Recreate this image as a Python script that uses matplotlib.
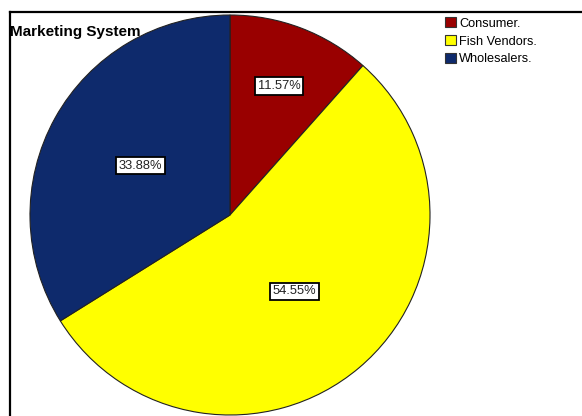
import matplotlib.pyplot as plt
from matplotlib.lines import Line2D
from matplotlib.patches import Patch

W, H = 582, 416

categories = ["Consumer.", "Fish Vendors.", "Wholesalers."]
shares = [11.57, 54.55, 33.88]
colors = ["#990000", "#FFFF00", "#0E2A6C"]
title = "Marketing System"

plt.rcParams['font.family'] = ['Liberation Sans', 'DejaVu Sans']

fig = plt.figure(figsize=(W / 100, H / 100), dpi=100)
ax = fig.add_axes([0, 0, 1, 1])

# chart frame (only top and left edges visible)
ax.add_line(Line2D([9.5, W], [H - 11.5, H - 11.5], color='black', lw=1.6))
ax.add_line(Line2D([9.5, 9.5], [0, H - 11.5], color='black', lw=1.6))

cx, cy = 230, H - 215
wedges, texts, autotexts = ax.pie(
    shares, colors=colors, startangle=90, counterclock=False,
    center=(cx, cy), radius=200, autopct='%.2f%%', pctdistance=0.5,
    wedgeprops=dict(edgecolor='#222222', linewidth=0.8),
    textprops=dict(fontsize=9.3, color='#222222'),
    frame=True)
ax.set_xlim(0, W)
ax.set_ylim(0, H)
ax.set_aspect('equal')
ax.axis('off')

# first label sits further out, like the SPSS original
label_dist = [0.69, 0.5, 0.51]
for t, d in zip(autotexts, label_dist):
    x, y = t.get_position()
    t.set_position((cx + (x - cx) * d / 0.5, cy + (y - cy) * d / 0.5))
    t.set_bbox(dict(facecolor='white', edgecolor='black', linewidth=1.3, pad=0.2, boxstyle='square'))

ax.text(10, H - 32, title, fontsize=11, fontweight='bold', ha='left', va='center')

handles = [Patch(facecolor=c, edgecolor='#333333', linewidth=0.8) for c in colors]
ax.legend(handles, categories, loc='upper left', bbox_to_anchor=(440 / W, 1 - 12 / H),
          frameon=False, fontsize=9.2, handlelength=0.85, handleheight=0.85,
          handletextpad=0.25, labelspacing=0.42, borderaxespad=0)

fig.savefig("out.png", dpi=100)
